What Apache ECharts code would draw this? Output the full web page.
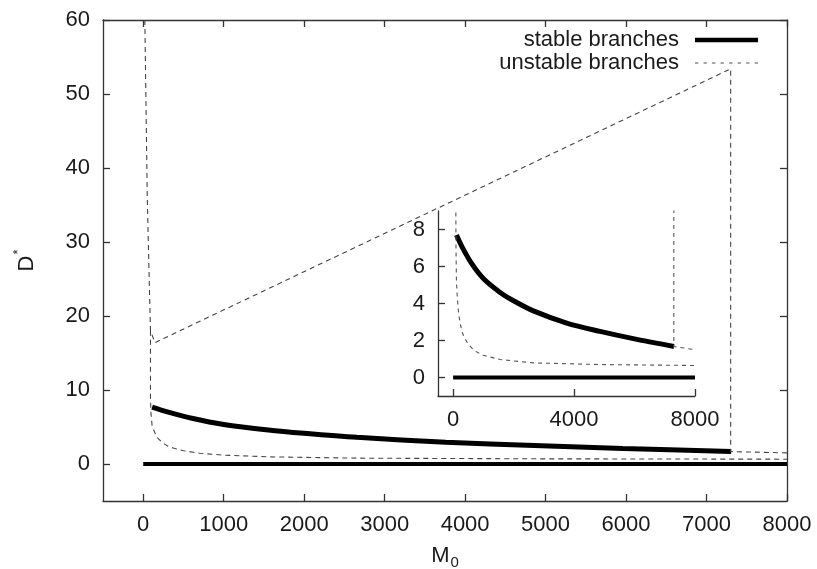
<!DOCTYPE html>
<html>
<head>
<meta charset="utf-8">
<script src="https://cdn.jsdelivr.net/npm/echarts@6/dist/echarts.min.js"></script>
<style>
  html, body { margin: 0; padding: 0; background: #fff; }
  #main { width: 817px; height: 569px; }
</style>
</head>
<body>
<div id="main"></div>
<script>
// 稳定分支 D=0
const zeroM = [0, 8000]
const zeroD = [0, 0]
// 稳定分支 上支
const stableM = [110, 300, 617, 1000, 1554, 2000, 2656, 3758, 4860, 5960, 7306]
const stableD = [7.7, 7.05, 6.15, 5.35, 4.6, 4.15, 3.6, 2.94, 2.49, 2.10, 1.68]
// 不稳定分支 左侧竖线 + 斜线 + 右侧竖线
const upperM = [20, 50, 80, 90, 145, 7300, 7300, 8000]
const upperD = [60, 36, 22.3, 18, 16.4, 53.4, 1.68, 1.5]
// 不稳定分支 下支
const lowerM = [90, 90, 95, 110, 140, 180, 231, 300, 373, 500, 700, 1000, 1554, 2656, 4860, 8000]
const lowerD = [18, 9, 7.0, 5.2, 4.3, 3.5, 2.94, 2.45, 2.15, 1.8, 1.45, 1.2, 0.97, 0.79, 0.70, 0.65]

// 刻度
const mainXTicks = [0, 1000, 2000, 3000, 4000, 5000, 6000, 7000, 8000]
const mainYTicks = [0, 10, 20, 30, 40, 50, 60]
const insetXTicks = [0, 4000, 8000]
const insetYTicks = [0, 2, 4, 6, 8]

const pairs = (xs, ys) => xs.map((x, i) => [x, ys[i]])

const font = 'Liberation Sans'
const txt = '#1a1a1a'
const frame = { show: true, onZero: false, lineStyle: { color: '#333', width: 1.3 } }

const mkAxis = (extra, ticks, showLabel) => Object.assign({
  type: 'value',
  axisLine: frame,
  splitLine: { show: false },
  axisTick: { show: true, inside: true, length: 7, customValues: ticks, lineStyle: { color: '#333', width: 1.3 } },
  axisLabel: { show: showLabel, customValues: ticks, color: txt, fontFamily: font, fontSize: 22, margin: 13,
    formatter: v => String(v) }
}, extra)

const chartDom = document.querySelector('#main')
const myChart = echarts.init(chartDom)

const dashMain = { color: '#444', width: 1.1, type: [5, 4] }
const dashInset = { color: '#555', width: 1.1, type: [4, 4] }

// 图例中的虚线图标
const dashIcon = 'path://M0,0h5v2h-5z M13,0h5v2h-5z M26,0h5v2h-5z M39,0h5v2h-5z M52,0h5v2h-5z M65,0h5v2h-5z M78,0h5v2h-5z M91,0h5v2h-5z'

const option = {
  animation: false,
  backgroundColor: '#fff',
  textStyle: { fontFamily: font },
  legend: {
    right: 59,
    top: 29,
    padding: 0,
    orient: 'vertical',
    align: 'right',
    itemWidth: 63,
    itemHeight: 14,
    itemGap: 1,
    textStyle: { fontFamily: font, fontSize: 22, color: txt, lineHeight: 22, padding: [0, 11, 0, 0] },
    data: [
      { name: 'stable branches', icon: 'path://M0,0 L100,0 L100,7 L0,7 Z', itemStyle: { color: '#000' } },
      { name: 'unstable branches', icon: dashIcon, itemStyle: { color: '#888' } }
    ]
  },
  grid: [
    { left: 103, top: 20, width: 684, height: 481, outerBoundsMode: 'none' },
    { left: 438, top: 211, width: 257, height: 185, outerBoundsMode: 'none' }
  ],
  xAxis: [
    mkAxis({
      gridIndex: 0, position: 'bottom', min: -500, max: 8000,
      name: '{m|M}{s|0}', nameLocation: 'middle', nameGap: 40,
      nameTextStyle: {
        rich: {
          m: { fontFamily: font, fontSize: 22, color: txt },
          s: { fontFamily: font, fontSize: 15, color: txt, padding: [14, 0, 0, 1] }
        }
      }
    }, mainXTicks, true),
    mkAxis({ gridIndex: 0, position: 'top', min: -500, max: 8000 }, mainXTicks, false),
    mkAxis({ gridIndex: 1, position: 'bottom', min: -500, max: 8000 }, insetXTicks, true)
  ],
  yAxis: [
    mkAxis({
      gridIndex: 0, position: 'left', min: -5, max: 60,
      name: '{d|D}{s|*}', nameLocation: 'middle', nameGap: 62,
      nameTextStyle: {
        rich: {
          d: { fontFamily: font, fontSize: 22, color: txt },
          s: { fontFamily: font, fontSize: 13, color: txt, padding: [0, 0, 16, 1] }
        }
      }
    }, mainYTicks, true),
    mkAxis({ gridIndex: 0, position: 'right', min: -5, max: 60 }, mainYTicks, false),
    mkAxis({ gridIndex: 1, position: 'left', min: -1, max: 9 }, insetYTicks, true)
  ],
  series: [
    // 主图
    { name: 'stable branches', type: 'line', xAxisIndex: 0, yAxisIndex: 0, symbol: 'none',
      data: pairs(zeroM, zeroD), lineStyle: { color: '#000', width: 4 } },
    { name: 'stable branches', type: 'line', xAxisIndex: 0, yAxisIndex: 0, symbol: 'none', smooth: 0.3,
      data: pairs(stableM, stableD), lineStyle: { color: '#000', width: 5 } },
    { name: 'unstable branches', type: 'line', xAxisIndex: 0, yAxisIndex: 0, symbol: 'none',
      data: pairs(upperM, upperD), lineStyle: dashMain },
    { name: 'unstable branches', type: 'line', xAxisIndex: 0, yAxisIndex: 0, symbol: 'none',
      data: pairs(lowerM, lowerD), lineStyle: dashMain },
    // 内嵌图
    { name: 'stable branches', type: 'line', xAxisIndex: 2, yAxisIndex: 2, symbol: 'none',
      data: pairs(zeroM, zeroD), lineStyle: { color: '#000', width: 4 } },
    { name: 'stable branches', type: 'line', xAxisIndex: 2, yAxisIndex: 2, symbol: 'none', smooth: 0.3,
      data: pairs(stableM, stableD), lineStyle: { color: '#000', width: 5 } },
    { name: 'unstable branches', type: 'line', xAxisIndex: 2, yAxisIndex: 2, symbol: 'none', clip: true,
      data: pairs(upperM, upperD), lineStyle: dashInset },
    { name: 'unstable branches', type: 'line', xAxisIndex: 2, yAxisIndex: 2, symbol: 'none', clip: true,
      data: pairs(lowerM, lowerD), lineStyle: dashInset }
  ]
}
myChart.setOption(option)
</script>
</body>
</html>
